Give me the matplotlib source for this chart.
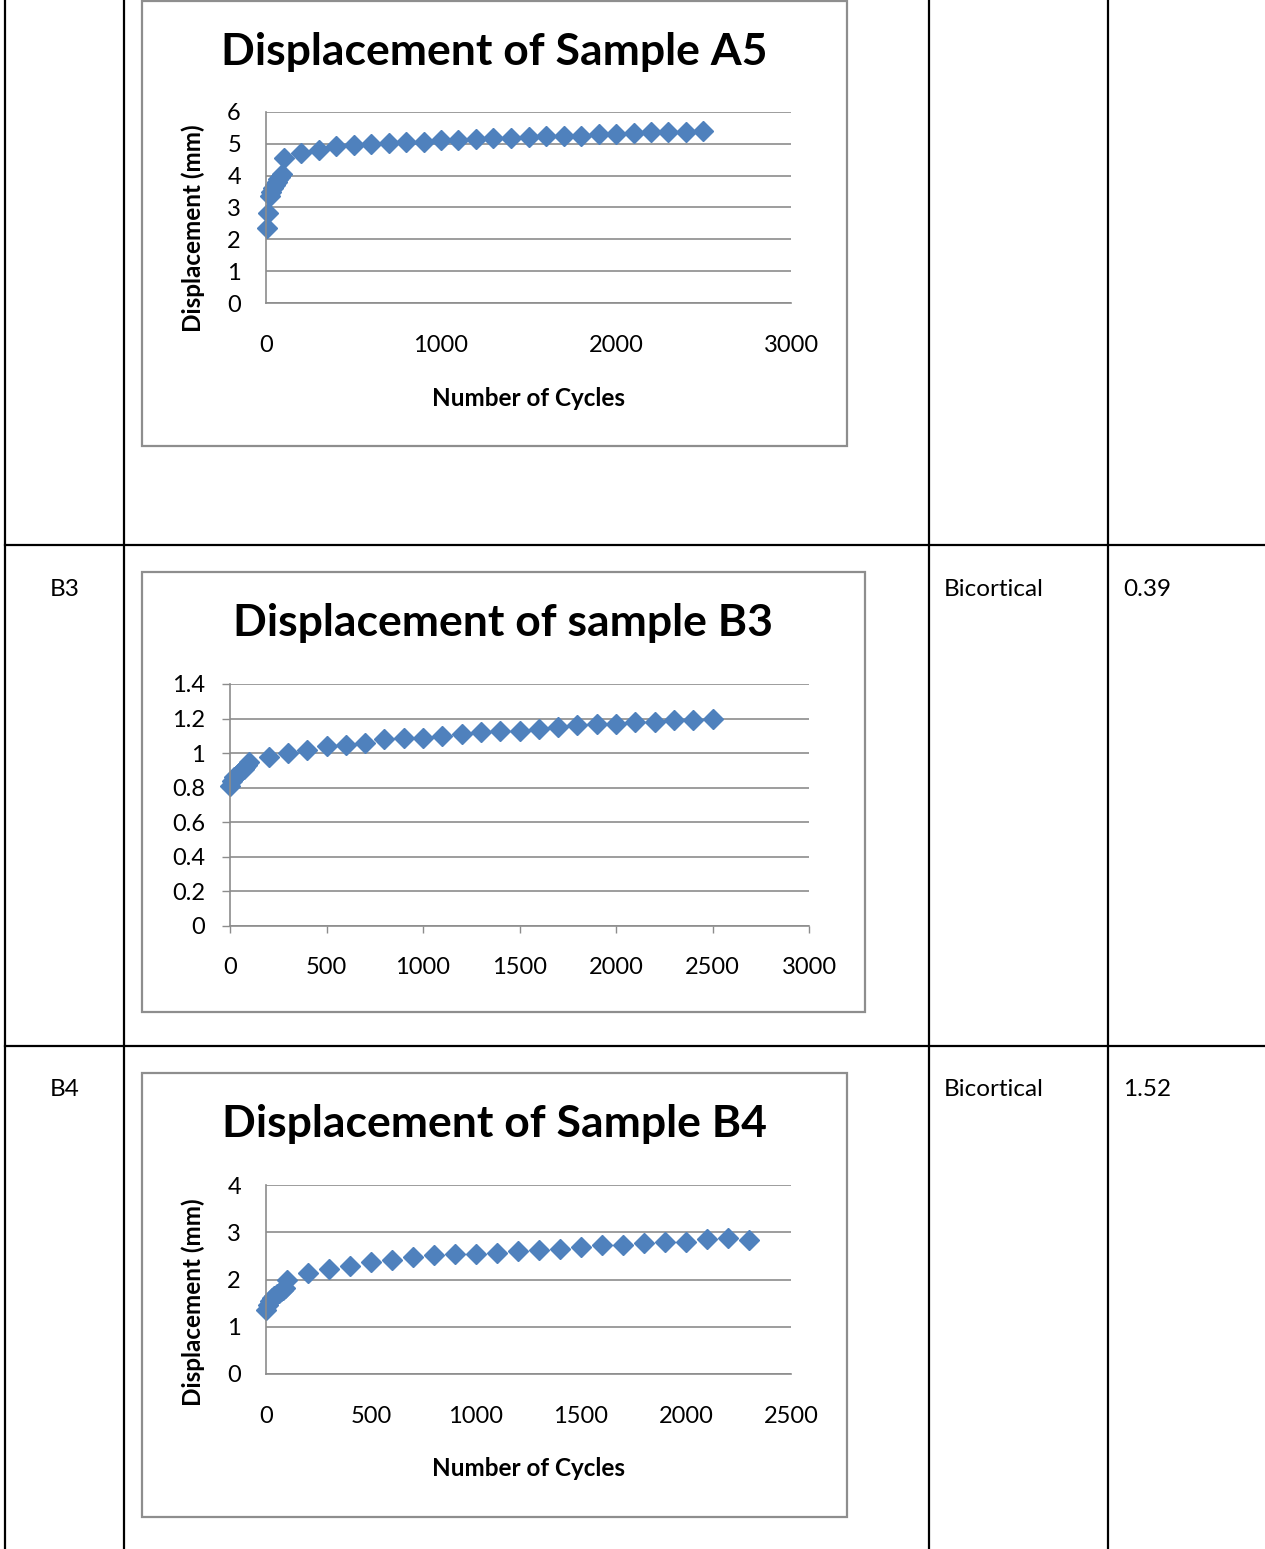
import matplotlib
matplotlib.use("Agg")
import matplotlib.pyplot as plt
from matplotlib.lines import Line2D
from matplotlib.patches import Rectangle

plt.rcParams['font.family'] = ['Lato', 'DejaVu Sans']

W, H = 1265, 1549
DPI = 100

# ---------------- data ----------------
a5_cycles = [5, 10, 20, 30, 40, 50, 60, 70, 80, 90, 100,
             200, 300, 400, 500, 600, 700, 800, 900, 1000, 1100, 1200, 1300,
             1400, 1500, 1600, 1700, 1800, 1900, 2000, 2100, 2200, 2300, 2400, 2500]
a5_disp = [2.36, 2.83, 3.35, 3.48, 3.6, 3.7, 3.8, 3.88, 3.95, 4.05, 4.55,
           4.71, 4.82, 4.92, 4.97, 5.01, 5.03, 5.05, 5.07, 5.11, 5.13, 5.15, 5.17,
           5.18, 5.21, 5.24, 5.24, 5.26, 5.30, 5.32, 5.34, 5.36, 5.36, 5.38, 5.41]

b3_cycles = [1, 10, 20, 30, 40, 50, 60, 70, 80, 90, 100,
             200, 300, 400, 500, 600, 700, 800, 900, 1000, 1100, 1200, 1300,
             1400, 1500, 1600, 1700, 1800, 1900, 2000, 2100, 2200, 2300, 2400, 2500]
b3_disp = [0.81, 0.84, 0.86, 0.87, 0.88, 0.89, 0.90, 0.91, 0.92, 0.93, 0.95,
           0.98, 1.00, 1.02, 1.04, 1.05, 1.06, 1.08, 1.09, 1.09, 1.10, 1.11, 1.12,
           1.13, 1.13, 1.14, 1.15, 1.16, 1.17, 1.17, 1.18, 1.18, 1.19, 1.19, 1.20]

b4_cycles = [1, 10, 20, 30, 40, 50, 60, 70, 80, 90, 100,
             200, 300, 400, 500, 600, 700, 800, 900, 1000, 1100, 1200, 1300,
             1400, 1500, 1600, 1700, 1800, 1900, 2000, 2100, 2200, 2300]
b4_disp = [1.35, 1.45, 1.55, 1.6, 1.65, 1.7, 1.72, 1.75, 1.78, 1.82, 1.99,
           2.13, 2.22, 2.29, 2.38, 2.41, 2.47, 2.52, 2.53, 2.53, 2.57, 2.61, 2.62,
           2.65, 2.68, 2.74, 2.74, 2.77, 2.80, 2.80, 2.85, 2.87, 2.84]

a5_yticks = [0, 1, 2, 3, 4, 5, 6]
a5_xticks = [0, 1000, 2000, 3000]
b3_yticks = [0, 0.2, 0.4, 0.6, 0.8, 1, 1.2, 1.4]
b3_yticklabels = ["0", "0.2", "0.4", "0.6", "0.8", "1", "1.2", "1.4"]
b3_xticks = [0, 500, 1000, 1500, 2000, 2500, 3000]
b4_yticks = [0, 1, 2, 3, 4]
b4_xticks = [0, 500, 1000, 1500, 2000, 2500]

titles = ["Displacement of Sample A5", "Displacement of sample B3", "Displacement of Sample B4"]
xlabel = "Number of Cycles"
ylabel = "Displacement (mm)"
row_ids = ["B3", "B4"]
row_type = ["Bicortical", "Bicortical"]
row_val = ["0.39", "1.52"]

BLUE = "#4F81BD"
GRID = "#8C8C8C"
TICK_FS = 17
TITLE_FS = 32
LABEL_FS = 17.5
TABLE_FS = 17.5

fig = plt.figure(figsize=(W / DPI, H / DPI), dpi=DPI)


def fx(x):
    return x / W


def fy(y):
    return 1 - y / H


def add_ax(left, top, right, bottom):
    return fig.add_axes([fx(left), fy(bottom), (right - left) / W, (bottom - top) / H])


def frame(left, top, right, bottom):
    fig.add_artist(Rectangle((fx(left), fy(bottom)), (right - left) / W, (bottom - top) / H,
                             transform=fig.transFigure, fill=False, edgecolor="#8E8E8E",
                             linewidth=1.6))


def style(ax, xlim, ylim, xticks, yticks, ticks_out=False, ylabels=None):
    ax.set_xlim(*xlim)
    ax.set_ylim(*ylim)
    ax.set_xticks(xticks)
    ax.set_yticks(yticks)
    if ylabels is not None:
        ax.set_yticklabels(ylabels)
    for s in ["top", "right"]:
        ax.spines[s].set_visible(False)
    for s in ["left", "bottom"]:
        ax.spines[s].set_color(GRID)
        ax.spines[s].set_linewidth(1.2)
    ax.grid(axis="y", color=GRID, linewidth=1.2)
    ax.set_axisbelow(True)
    if ticks_out:
        ax.tick_params(axis="y", length=6, width=1.0, color=GRID, pad=12, labelsize=TICK_FS)
        ax.tick_params(axis="x", length=5, width=1.0, color=GRID, pad=17, labelsize=TICK_FS)
    else:
        ax.tick_params(axis="y", length=0, pad=18, labelsize=TICK_FS)
        ax.tick_params(axis="x", length=0, pad=23, labelsize=TICK_FS)
    ax.patch.set_alpha(0)


# ---------------- table lines ----------------
for x in [5, 124, 929, 1108]:
    fig.add_artist(Line2D([fx(x), fx(x)], [0, 1], transform=fig.transFigure,
                          color="black", linewidth=1.6))
for y in [545, 1046]:
    fig.add_artist(Line2D([fx(5), 1], [fy(y), fy(y)], transform=fig.transFigure,
                          color="black", linewidth=1.6))

# table text
for i, y in enumerate([589, 1090]):
    fig.text(fx(50), fy(y), row_ids[i], fontsize=TABLE_FS, va="center", ha="left")
    fig.text(fx(944), fy(y), row_type[i], fontsize=TABLE_FS, va="center", ha="left")
    fig.text(fx(1123), fy(y), row_val[i], fontsize=TABLE_FS, va="center", ha="left")

# ---------------- chart A5 ----------------
frame(142, 1, 847, 446)
ax1 = add_ax(266, 112, 791, 303)
ax1.plot(a5_cycles, a5_disp, linestyle="none", marker="D", markersize=10,
         color=BLUE, markeredgecolor=BLUE, clip_on=False)
style(ax1, (0, 3000), (0, 6), a5_xticks, a5_yticks)
fig.text(fx(494), fy(52), titles[0], fontsize=TITLE_FS, fontweight="bold", ha="center", va="center")
fig.text(fx(528), fy(399), xlabel, fontsize=LABEL_FS, fontweight="bold", ha="center", va="center")
fig.text(fx(193), fy(228), ylabel, fontsize=LABEL_FS, fontweight="bold", ha="center", va="center",
         rotation=90)

# ---------------- chart B3 ----------------
frame(142, 572, 865, 1012)
ax2 = add_ax(230, 684, 809, 926)
ax2.plot(b3_cycles, b3_disp, linestyle="none", marker="D", markersize=10,
         color=BLUE, markeredgecolor=BLUE, clip_on=False)
style(ax2, (0, 3000), (0, 1.4), b3_xticks, b3_yticks, ticks_out=True, ylabels=b3_yticklabels)
fig.text(fx(503), fy(623), titles[1], fontsize=TITLE_FS, fontweight="bold", ha="center", va="center")

# ---------------- chart B4 ----------------
frame(142, 1073, 847, 1517)
ax3 = add_ax(266, 1185, 791, 1374)
ax3.plot(b4_cycles, b4_disp, linestyle="none", marker="D", markersize=10,
         color=BLUE, markeredgecolor=BLUE, clip_on=False)
style(ax3, (0, 2500), (0, 4), b4_xticks, b4_yticks)
fig.text(fx(494), fy(1124), titles[2], fontsize=TITLE_FS, fontweight="bold", ha="center", va="center")
fig.text(fx(528), fy(1469), xlabel, fontsize=LABEL_FS, fontweight="bold", ha="center", va="center")
fig.text(fx(193), fy(1302), ylabel, fontsize=LABEL_FS, fontweight="bold", ha="center", va="center",
         rotation=90)

fig.savefig("out.png", dpi=DPI)
